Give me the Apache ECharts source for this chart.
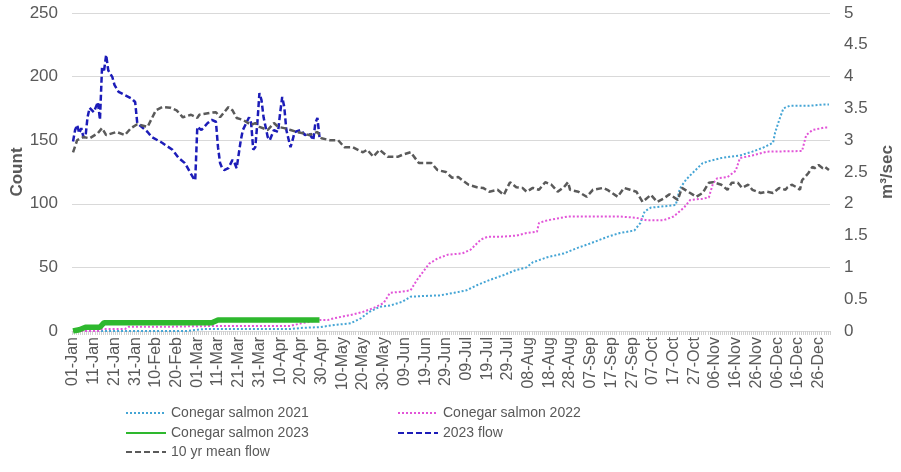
<!DOCTYPE html>
<html>
<head>
<meta charset="utf-8">
<script src="https://cdn.jsdelivr.net/npm/echarts@6/dist/echarts.min.js"></script>
<style>
html,body{margin:0;padding:0;background:#fff;}
#chart{width:901px;height:472px;}
</style>
</head>
<body>
<div id="chart"></div>
<script>
// Category labels (leap-year calendar, daily)
const monthNames = ['Jan','Feb','Mar','Apr','May','Jun','Jul','Aug','Sep','Oct','Nov','Dec'];
const monthLengths = [31,29,31,30,31,30,31,31,30,31,30,31];

// [dayIndex, cumulative count]
const salmon2021 = [[0,0],[55,0],[60,1],[63,1.5],[105,1.5],[110,2.4],[119,3],[126,4.7],[134,6],[139,10],[143,15],[148,19],[153,20],[159,23],[163,27],[169,27.5],[177,28],[184,30],[190,32],[195,36],[201,40],[208,44],[214,48],[219,50],[222,54],[229,58],[237,61],[243,65],[250,69],[258,74],[264,77],[271,79],[274,85],[276,94],[279,97],[291,99],[293,112],[296,119],[299,124],[304,132],[308,134],[313,136],[317,137],[322,138],[328,141],[333,144],[338,148],[339,156],[341,166],[343,175],[346,177],[355,177],[362,178],[365,178]];
const salmon2022 = [[0,0],[12,0],[14,1.5],[25,1.5],[27,3.4],[47,3.4],[50,3.5],[70,4],[105,4],[110,6],[119,8.6],[123,8.6],[126,10],[134,12.6],[140,15],[145,18],[150,22],[153,30],[159,31],[163,32],[166,40],[172,53],[176,57],[181,60],[188,61],[192,64],[197,72],[200,74],[206,74],[214,75],[219,77],[224,78],[225,85],[229,87],[239,90],[264,90],[272,89],[277,87],[285,87],[290,90],[295,97],[298,103],[304,104],[307,105],[309,116],[311,120],[316,121],[320,126],[322,136],[328,138],[335,141],[352,141.5],[354,154],[357,158],[363,160],[365,160]];
const salmon2023 = [[0,0],[3,1],[6,3],[13,3],[15,6.5],[67,6.5],[70,8.6],[119,8.6]];
// [dayIndex, m3/sec]
const flow2023 = [[0,2.98],[1,3.16],[2,3.24],[3,3.11],[4,3.19],[5,3.05],[6,3.05],[7,3.36],[8,3.51],[10,3.44],[11,3.52],[12,3.60],[13,3.32],[14,4.14],[15,4.10],[16,4.34],[17,4.10],[19,3.99],[20,3.87],[22,3.76],[25,3.71],[28,3.66],[30,3.60],[31,3.27],[32,3.24],[36,3.13],[38,3.05],[43,2.96],[48,2.85],[51,2.72],[54,2.64],[58,2.41],[59,2.37],[60,3.21],[62,3.16],[65,3.27],[67,3.32],[69,3.29],[70,2.89],[71,2.64],[72,2.56],[73,2.53],[75,2.56],[77,2.69],[78,2.64],[79,2.56],[81,3.00],[82,3.16],[85,3.36],[86,3.27],[87,2.85],[88,2.89],[89,3.27],[90,3.74],[91,3.63],[92,3.36],[94,3.05],[95,3.00],[97,3.16],[99,3.13],[100,3.43],[101,3.68],[102,3.52],[103,3.16],[105,2.89],[106,3.00],[107,3.13],[110,3.16],[112,3.08],[114,3.11],[116,3.00],[117,3.27],[118,3.35],[119,3.05]];
const meanFlow = [[0,2.81],[2,3.00],[5,3.05],[8,3.03],[12,3.11],[14,3.19],[16,3.08],[21,3.13],[25,3.08],[28,3.19],[31,3.25],[36,3.21],[40,3.47],[43,3.52],[47,3.51],[50,3.47],[53,3.36],[57,3.40],[60,3.35],[61,3.40],[66,3.43],[69,3.44],[71,3.36],[75,3.52],[77,3.47],[79,3.35],[82,3.32],[86,3.24],[88,3.27],[90,3.21],[94,3.16],[97,3.27],[99,3.21],[102,3.19],[105,3.16],[108,3.13],[111,3.11],[114,3.08],[118,3.13],[120,3.03],[124,3.00],[128,3.00],[131,2.89],[135,2.89],[140,2.81],[142,2.85],[145,2.74],[148,2.85],[152,2.74],[157,2.74],[159,2.77],[163,2.81],[167,2.64],[171,2.64],[173,2.64],[176,2.53],[180,2.50],[183,2.41],[186,2.42],[188,2.37],[191,2.30],[195,2.26],[198,2.25],[201,2.19],[205,2.22],[208,2.14],[211,2.34],[214,2.26],[217,2.25],[219,2.19],[222,2.25],[225,2.22],[228,2.34],[231,2.30],[234,2.19],[237,2.26],[239,2.34],[240,2.22],[244,2.19],[248,2.11],[251,2.22],[256,2.25],[258,2.22],[263,2.11],[266,2.25],[269,2.22],[272,2.19],[275,2.03],[279,2.14],[282,2.03],[285,2.08],[288,2.15],[292,2.06],[294,2.25],[297,2.19],[301,2.11],[304,2.17],[307,2.33],[309,2.34],[313,2.30],[316,2.22],[318,2.33],[321,2.33],[323,2.25],[326,2.30],[328,2.22],[332,2.17],[335,2.19],[338,2.17],[341,2.25],[344,2.22],[345,2.26],[347,2.30],[350,2.25],[351,2.22],[352,2.37],[355,2.48],[357,2.58],[358,2.56],[360,2.61],[362,2.56],[363,2.58],[365,2.53]];

const seriesNames = ['Conegar salmon 2021','Conegar salmon 2022','Conegar salmon 2023','2023 flow','10 yr mean flow'];

const categories = [];
monthNames.forEach((m, i) => {
  for (let d = 1; d <= monthLengths[i]; d++) {
    categories.push((d < 10 ? '0' + d : '' + d) + '-' + m);
  }
});

const txt = '#595959';
const font = 'Liberation Sans, Arial, sans-serif';
const chart = echarts.init(document.getElementById('chart'), null, {renderer: 'canvas'});

function leg(name, left, top) {
  return {
    data: [name], left: left, top: top, padding: 0,
    itemWidth: 40, itemHeight: 14,
    itemStyle: {opacity: 0},
    textStyle: {color: txt, fontSize: 14, fontFamily: font}
  };
}

chart.setOption({
  animation: false,
  backgroundColor: '#ffffff',
  grid: {left: 72, right: 71, top: 13, bottom: 141, containLabel: false, outerBoundsMode: 'none'},
  legend: [
    leg(seriesNames[0], 125, 406),
    leg(seriesNames[1], 397, 406),
    leg(seriesNames[2], 125, 426),
    leg(seriesNames[3], 397, 426),
    leg(seriesNames[4], 125, 445)
  ],
  xAxis: {
    type: 'category',
    data: categories,
    boundaryGap: true,
    axisLine: {lineStyle: {color: '#d9d9d9'}},
    axisTick: {show: true, interval: 0, length: 4, lineStyle: {color: '#d0d0d0'}},
    axisLabel: {interval: 9, rotate: 90, color: txt, fontSize: 16, fontFamily: font, margin: 6}
  },
  yAxis: [
    {
      type: 'value', min: 0, max: 250, interval: 50,
      name: 'Count', nameLocation: 'middle', nameRotate: 90, nameGap: 46, nameMoveOverlap: false,
      nameTextStyle: {color: txt, fontSize: 17, fontWeight: 'bold', fontFamily: font},
      axisLine: {show: false}, axisTick: {show: false},
      axisLabel: {color: txt, fontSize: 17, fontFamily: font, margin: 14},
      splitLine: {lineStyle: {color: '#d9d9d9'}}
    },
    {
      type: 'value', min: 0, max: 5, interval: 0.5,
      name: 'm³/sec', nameLocation: 'middle', nameRotate: 90, nameGap: 49, nameMoveOverlap: false,
      nameTextStyle: {color: txt, fontSize: 17, fontWeight: 'bold', fontFamily: font},
      axisLine: {show: false}, axisTick: {show: false},
      axisLabel: {color: txt, fontSize: 17, fontFamily: font, margin: 14},
      splitLine: {show: false}
    }
  ],
  series: [
    {name: seriesNames[0], type: 'line', yAxisIndex: 0, data: salmon2021, symbol: 'none',
     lineStyle: {color: '#45A5D5', width: 2, type: [2, 2]}, itemStyle: {color: '#45A5D5'}},
    {name: seriesNames[1], type: 'line', yAxisIndex: 0, data: salmon2022, symbol: 'none',
     lineStyle: {color: '#E255D8', width: 2, type: [2, 2]}, itemStyle: {color: '#E255D8'}},
    {name: seriesNames[2], type: 'line', yAxisIndex: 0, data: salmon2023, symbol: 'none',
     lineStyle: {color: '#2EB82E', width: 5.5, type: 'solid'}, itemStyle: {color: '#2EB82E'}},
    {name: seriesNames[3], type: 'line', yAxisIndex: 1, data: flow2023, symbol: 'none',
     lineStyle: {color: '#1C1CB8', width: 2.5, type: [6, 3]}, itemStyle: {color: '#1C1CB8'}},
    {name: seriesNames[4], type: 'line', yAxisIndex: 1, data: meanFlow, symbol: 'none',
     lineStyle: {color: '#5A5A5A', width: 2.5, type: [6, 3]}, itemStyle: {color: '#5A5A5A'}}
  ]
});
</script>
</body>
</html>
